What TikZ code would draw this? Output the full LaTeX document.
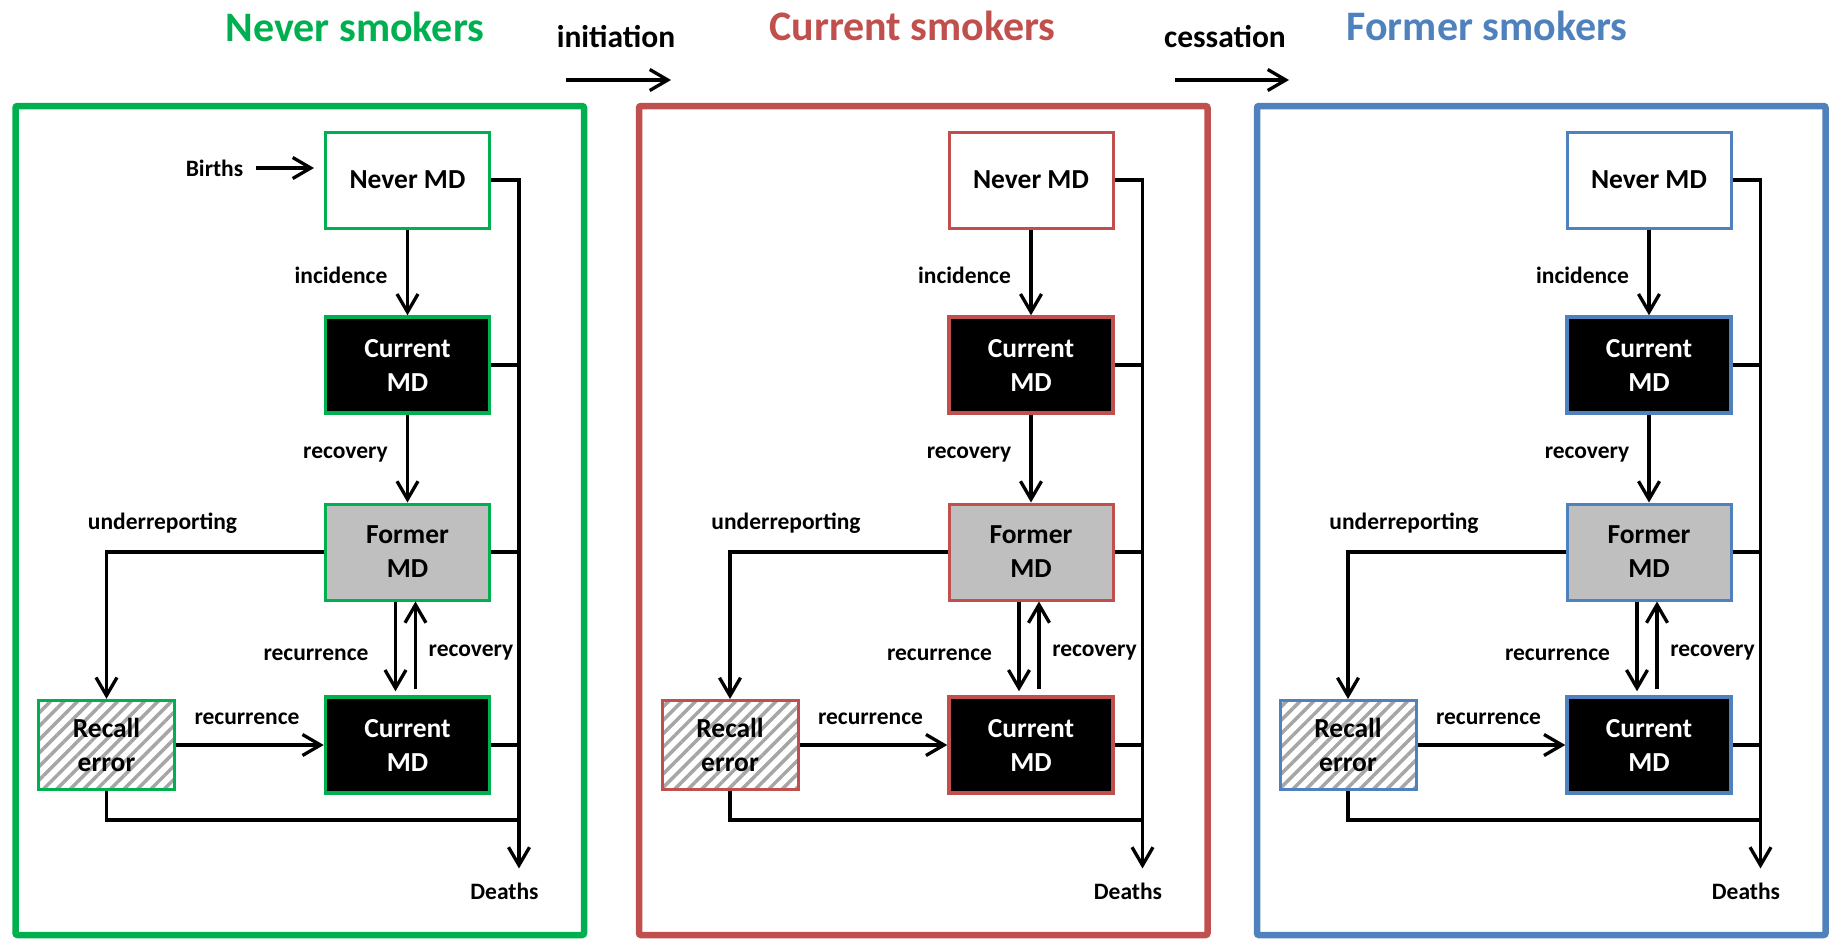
\documentclass[tikz,border=0pt]{standalone}
\usepackage{fontspec}
\setmainfont{Carlito}
\usetikzlibrary{arrows.meta,patterns.meta,calc}
\definecolor{cgreen}{HTML}{00B050}
\definecolor{cred}{HTML}{C0504D}
\definecolor{cblue}{HTML}{4F81BD}
\definecolor{cgray}{HTML}{BFBFBF}
\definecolor{hatchgray}{HTML}{A6A6A6}
\colorlet{pcol}{black}
\tikzset{
  arr/.style={line width=3.3pt, -{Straight Barb[length=18pt,width=21pt]}},
  ln/.style={line width=3.3pt},
  panelbox/.style={draw=pcol, line width=6.5pt, rounded corners=2pt, inner sep=0pt},
  mdbox/.style={draw=pcol, line width=3pt, minimum width=164pt, minimum height=96pt,
    align=center, inner sep=0pt, font=\fontsize{27.5}{34}\selectfont\bfseries},
  whitebox/.style={mdbox, fill=white},
  blackbox/.style={mdbox, fill=black, text=white, line width=3.5pt},
  graybox/.style={mdbox, fill=cgray},
  hatchbox/.style={mdbox, minimum width=136pt, minimum height=89pt,
    pattern={Lines[angle=45,distance=9.5pt,line width=3.5pt]}, pattern color=hatchgray},
  lab/.style={inner sep=0pt, font=\fontsize{23.5}{28}\selectfont\bfseries},
  toplab/.style={inner sep=0pt, anchor=base, font=\fontsize{31.5}{38}\selectfont\bfseries},
  ttl/.style={inner sep=0pt, anchor=base, font=\fontsize{42}{50}\selectfont\bfseries},
}
\newcommand\drawpanel[3]{%
\begin{scope}[xshift=#2pt, name prefix=#1-]
  \colorlet{pcol}{#3}
  \node[panelbox, minimum width=568.5pt, minimum height=829pt] (panel) at (284.25,520.5) {};
  \node[whitebox] (never) at (392,180) {Never MD};
  \node[blackbox] (cur1) at (392,365) {Current\\MD};
  \node[graybox] (former) at (392,552) {Former\\MD};
  \node[blackbox] (cur2) at (392,745) {Current\\MD};
  \node[hatchbox] (recall) at (91,745) {Recall\\error};
  \coordinate (bus) at (503.5,180);
  \coordinate (low) at (91,820);
  \node[lab] (deaths) at (489,891) {Deaths};
  \node[lab] (inc) at (325.5,275) {incidence};
  \node[lab] (rec1) at (330,455) {recovery};
  \node[lab] (under) at (147,523) {underreporting};
  \node[lab] (recur1) at (300.5,655) {recurrence};
  \node[lab] (recov2) at (455.5,653) {recovery};
  \node[lab] (recur2) at (231.5,719) {recurrence};
  % flows
  \draw[arr] (never.south) -- (cur1.north);
  \draw[arr] (cur1.south) -- (former.north);
  \draw[arr] (former.west) -| (recall.north);
  \draw[arr] (recall.east) -- (cur2.west);
  \draw[arr] ([xshift=-12pt]former.south) -- ([xshift=-12pt,yshift=4pt]cur2.north);
  \draw[arr] ([xshift=8pt,yshift=6pt]cur2.north) -- ([xshift=8pt]former.south);
  % deaths bus
  \draw[arr] (never.east) -| ([yshift=14pt]bus |- deaths.north);
  \draw[ln] (cur1.east) -- (cur1.east -| bus);
  \draw[ln] (former.east) -- (former.east -| bus);
  \draw[ln] (cur2.east) -- (cur2.east -| bus);
  \draw[ln] (recall.south) |- (bus |- low);
\end{scope}}
\begin{document}
\begin{tikzpicture}[x=1pt,y=-1pt]
\useasboundingbox (0,0) rectangle (1834,940);
% titles
\node[ttl, text=cgreen] (t1) at (355,41) {Never smokers};
\node[ttl, text=cred] (t2) at (912.5,40) {Current smokers};
\node[ttl, text=cblue] (t3) at (1487,40) {Former smokers};
\node[toplab] (init) at (616,47) {initiation};
\node[toplab] (cess) at (1225,47) {cessation};
\coordinate (ia) at (566,80);
\coordinate (ib) at (671,80);
\coordinate (ca) at (1175,80);
\coordinate (cb) at (1289,80);
\draw[arr] (ia) -- (ib);
\draw[arr] (ca) -- (cb);
% panels
\drawpanel{g}{15.5}{cgreen}
\drawpanel{r}{639}{cred}
\drawpanel{b}{1257}{cblue}
% births
\node[lab] (births) at (214.5,168) {Births};
\draw[arr] ([xshift=13pt]births.east) -- ([xshift=-10pt]g-never.west |- births.east);
\end{tikzpicture}
\end{document}
